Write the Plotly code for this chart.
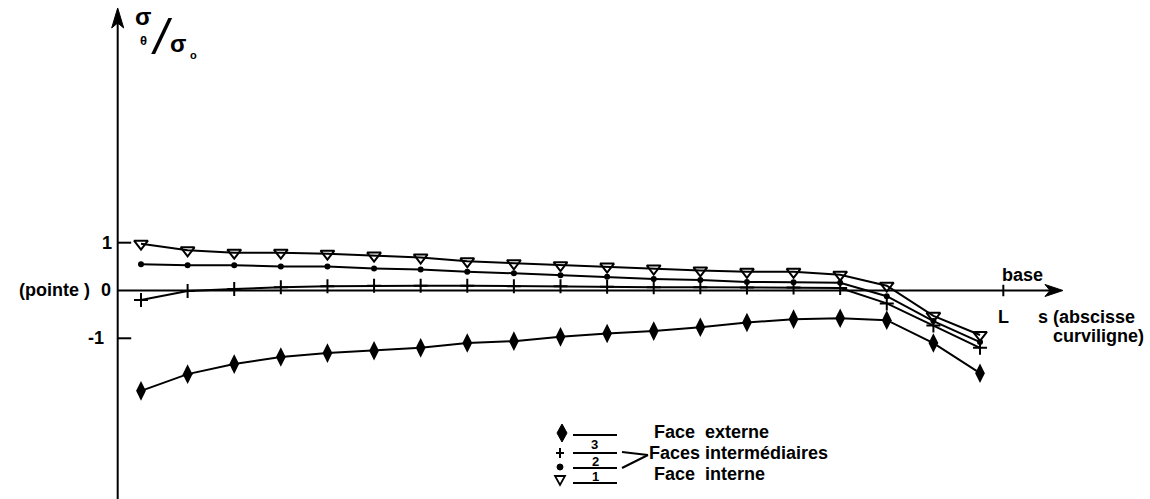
import plotly.graph_objects as go

# ---------------- data ----------------
s_points = [0.5, 1.5, 2.5, 3.5, 4.5, 5.5, 6.5, 7.5, 8.5, 9.5,
            10.5, 11.5, 12.5, 13.5, 14.5, 15.5, 16.5, 17.5, 18.5]
s_L = 19.0

face_externe = [-2.10, -1.75, -1.54, -1.39, -1.31, -1.26, -1.20, -1.10, -1.06, -0.97,
                -0.90, -0.85, -0.77, -0.67, -0.60, -0.58, -0.62, -1.10, -1.73]
face_inter_plus = [-0.20, -0.01, 0.03, 0.07, 0.09, 0.10, 0.10, 0.10, 0.09, 0.09,
                   0.08, 0.07, 0.07, 0.06, 0.06, 0.05, -0.27, -0.73, -1.20]
face_inter_dot = [0.55, 0.53, 0.53, 0.50, 0.50, 0.46, 0.44, 0.39, 0.36, 0.32,
                  0.29, 0.24, 0.22, 0.18, 0.17, 0.16, -0.12, -0.64, -1.08]
face_interne = [0.98, 0.84, 0.79, 0.79, 0.77, 0.73, 0.69, 0.61, 0.57, 0.53,
                0.50, 0.46, 0.42, 0.39, 0.39, 0.33, 0.10, -0.53, -0.93]

y_ticks = [1, 0, -1]
y_tick_labels = ["1", "0", "-1"]

# ---------------- layout constants ----------------
W, H = 1150, 499
X_RANGE = [-2.525, 22.147]
Y_RANGE = [-4.362, 6.077]
X_ARROW_END = 20.28
Y_ARROW_END = 5.91
FONT = "Liberation Sans"
BLACK = "#000000"


def P(xp, yp):
    """pixel -> paper coordinates"""
    return xp / W, 1 - yp / H


fig = go.Figure()

line_style = dict(color=BLACK, width=2)
fig.add_trace(go.Scatter(x=s_points, y=face_externe, mode="lines+markers",
                         line=line_style,
                         marker=dict(symbol="diamond-tall", size=14, color=BLACK),
                         name="Face externe", showlegend=False))
fig.add_trace(go.Scatter(x=s_points, y=face_inter_plus, mode="lines+markers",
                         line=line_style,
                         marker=dict(symbol="cross-thin", size=10, color=BLACK,
                                     line=dict(color=BLACK, width=2)),
                         name="Face intermédiaire 3", showlegend=False))
fig.add_trace(go.Scatter(x=s_points, y=face_inter_dot, mode="lines+markers",
                         line=line_style,
                         marker=dict(symbol="circle", size=6, color=BLACK),
                         name="Face intermédiaire 2", showlegend=False))
fig.add_trace(go.Scatter(x=s_points, y=face_interne, mode="lines+markers",
                         line=line_style,
                         marker=dict(symbol="triangle-down-open", size=12, color=BLACK,
                                     line=dict(color=BLACK, width=2)),
                         name="Face interne", showlegend=False))

shapes = []
# axis lines
shapes.append(dict(type="line", xref="x", yref="y", x0=0, x1=0,
                   y0=Y_RANGE[0], y1=Y_ARROW_END - 0.25, line=dict(color=BLACK, width=2)))
shapes.append(dict(type="line", xref="x", yref="y", x0=0, x1=X_ARROW_END - 0.25,
                   y0=0, y1=0, line=dict(color=BLACK, width=2)))
# arrow heads
shapes.append(dict(type="path", xref="x", yref="y", xsizemode="pixel", ysizemode="pixel",
                   xanchor=X_ARROW_END, yanchor=0,
                   path="M0,0 L-18,6 L-13,0 L-18,-6 Z", fillcolor=BLACK,
                   line=dict(color=BLACK, width=1)))
shapes.append(dict(type="path", xref="x", yref="y", xsizemode="pixel", ysizemode="pixel",
                   xanchor=0, yanchor=Y_ARROW_END,
                   path="M0,0 L-6,-20 L0,-15 L6,-20 Z", fillcolor=BLACK,
                   line=dict(color=BLACK, width=1)))
# y ticks (1 and -1)
for v in [1, -1]:
    shapes.append(dict(type="line", xref="x", yref="y", x0=0, x1=0.29, y0=v, y1=v,
                       line=dict(color=BLACK, width=2)))
# L tick
shapes.append(dict(type="line", xref="x", yref="y", x0=s_L, x1=s_L, y0=-0.12, y1=0.12,
                   line=dict(color=BLACK, width=2)))

# legend schematic (pixel positions)
for yp in [435, 453, 468, 483]:
    x0, y0 = P(573, yp)
    x1, _ = P(617, yp)
    shapes.append(dict(type="line", xref="paper", yref="paper", x0=x0, x1=x1, y0=y0, y1=y0,
                       line=dict(color=BLACK, width=2)))
for (a, b) in [((622, 452), (648, 455)), ((622, 468), (648, 455))]:
    x0, y0 = P(*a)
    x1, y1 = P(*b)
    shapes.append(dict(type="line", xref="paper", yref="paper", x0=x0, x1=x1, y0=y0, y1=y1,
                       line=dict(color=BLACK, width=2)))


def symbol_shape(xp, yp, path, filled=True, width=1.5):
    x, y = P(xp, yp)
    shapes.append(dict(type="path", xref="paper", yref="paper",
                       xsizemode="pixel", ysizemode="pixel", xanchor=x, yanchor=y,
                       path=path, fillcolor=BLACK if filled else "rgba(0,0,0,0)",
                       line=dict(color=BLACK, width=width)))


# legend symbols
symbol_shape(562, 433, "M0,9 L5,0 L0,-9 L-5,0 Z", filled=True, width=1)
symbol_shape(560, 453, "M-4,0 L4,0 M0,-5 L0,5", filled=False, width=2)
cx, cy = P(560, 467)
shapes.append(dict(type="circle", xref="paper", yref="paper",
                   xsizemode="pixel", ysizemode="pixel", xanchor=cx, yanchor=cy,
                   x0=-3, x1=3, y0=-3, y1=3, fillcolor=BLACK,
                   line=dict(color=BLACK, width=1)))
symbol_shape(560, 480, "M-5,4 L5,4 L0,-5 Z", filled=False, width=1.8)

annotations = []


def ann_px(text, xp, yp, size=16, xanchor="center", weight="bold", style="normal"):
    x, y = P(xp, yp)
    annotations.append(dict(text=text, x=x, y=y, xref="paper", yref="paper",
                            xanchor=xanchor, yanchor="middle", showarrow=False,
                            font=dict(family=FONT, size=size, color=BLACK,
                                      weight=weight, style=style)))


def ann_data(text, x, y, size=16, xanchor="center", weight="bold"):
    annotations.append(dict(text=text, x=x, y=y, xref="x", yref="y",
                            xanchor=xanchor, yanchor="middle", showarrow=False,
                            font=dict(family=FONT, size=size, color=BLACK, weight=weight)))


# y tick labels
tick_label_x = {1: -0.23, 0: -0.25, -1: -0.46}
for v, lab in zip(y_ticks, y_tick_labels):
    ann_data(lab, tick_label_x[v], v, size=18)
ann_data("(pointe )", -0.56, 0, size=18, xanchor="right")

# x axis texts
ann_data("L", s_L, -0.55, size=18)
ann_px("base", 1022, 275, size=18)
ann_px("s (abscisse", 1036, 317, size=18, xanchor="left")
ann_px("curviligne)", 1051, 336, size=18, xanchor="left")

# y axis title  sigma_theta / sigma_o
ann_px("σ", 143, 16, size=24, weight="bold")
ann_px("θ", 143, 41, size=13)
ann_px("/", 162, 37, size=50, weight="normal", style="italic")
ann_px("σ", 178, 44, size=24, weight="bold")
ann_px("o", 193, 55, size=11)

# legend texts
ann_px("3", 594, 444, size=13)
ann_px("2", 595, 461, size=13)
ann_px("1", 595, 476, size=13)
ann_px("Face\u00a0\u00a0externe", 652, 432, size=18, xanchor="left")
ann_px("Faces intermédiaires", 647, 453, size=18, xanchor="left")
ann_px("Face\u00a0\u00a0interne", 652, 474, size=18, xanchor="left")

fig.update_layout(
    width=W, height=H, autosize=False,
    margin=dict(l=0, r=0, t=0, b=0, pad=0),
    paper_bgcolor="white", plot_bgcolor="white",
    xaxis=dict(range=X_RANGE, visible=False, showgrid=False, zeroline=False, fixedrange=True),
    yaxis=dict(range=Y_RANGE, visible=False, showgrid=False, zeroline=False, fixedrange=True),
    shapes=shapes, annotations=annotations, showlegend=False,
)

fig.write_html("out.html", config={"displayModeBar": False},
               post_script="document.body.style.margin='0';document.body.style.padding='0';")
